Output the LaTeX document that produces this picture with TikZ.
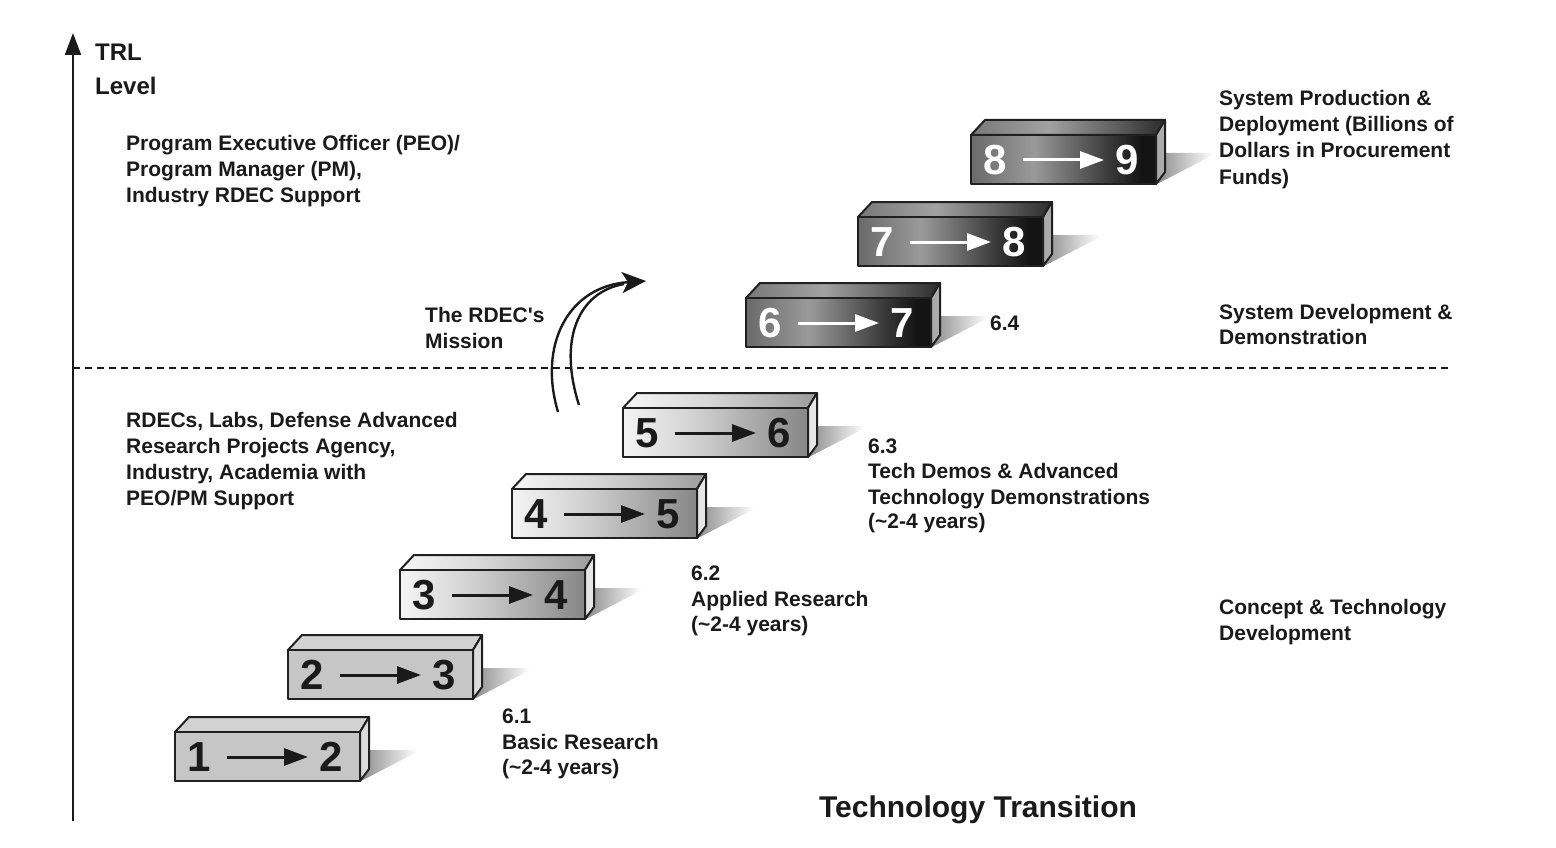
\documentclass[tikz,border=0pt]{standalone}
\usepackage{fontspec}
\setmainfont{Liberation Sans}
\usetikzlibrary{arrows.meta}
\definecolor{ink}{HTML}{1A1A1A}
\definecolor{boxedge}{HTML}{202020}
\definecolor{flatF}{HTML}{C6C6C6}
\definecolor{flatT}{HTML}{D2D2D2}
\definecolor{flatS}{HTML}{DCDCDC}
\definecolor{lf1}{HTML}{F4F4F4}
\definecolor{lf2}{HTML}{D0D0D0}
\definecolor{lf3}{HTML}{868686}
\definecolor{lt1}{HTML}{F6F6F6}
\definecolor{lt2}{HTML}{DADADA}
\definecolor{lt3}{HTML}{9C9C9C}
\definecolor{lightS}{HTML}{E6E6E6}
\definecolor{df1}{HTML}{6A6A6A}
\definecolor{df2}{HTML}{9A9A9A}
\definecolor{df3}{HTML}{363636}
\definecolor{df4}{HTML}{141414}
\definecolor{dt1}{HTML}{787878}
\definecolor{dt2}{HTML}{A2A2A2}
\definecolor{dt3}{HTML}{2C2C2C}
\definecolor{darkS}{HTML}{ABABAB}
\definecolor{sh1}{HTML}{8C8C8C}
\pgfdeclarehorizontalshading{lightfront}{100bp}{color(0bp)=(lf1); color(25bp)=(lf1); color(45bp)=(lf2); color(75bp)=(lf3); color(100bp)=(lf3)}
\pgfdeclarehorizontalshading{lighttop}{100bp}{color(0bp)=(lt1); color(25bp)=(lt1); color(45bp)=(lt2); color(75bp)=(lt3); color(100bp)=(lt3)}
\pgfdeclarehorizontalshading{darkfront}{100bp}{color(0bp)=(df1); color(25bp)=(df1); color(42bp)=(df2); color(63bp)=(df3); color(71bp)=(df4); color(75bp)=(df4); color(100bp)=(df4)}
\pgfdeclarehorizontalshading{darktop}{100bp}{color(0bp)=(dt1); color(25bp)=(dt1); color(45bp)=(dt2); color(75bp)=(dt3); color(100bp)=(dt3)}
\pgfdeclarehorizontalshading{shadowfade}{100bp}{color(0bp)=(sh1); color(25bp)=(sh1); color(75bp)=(white); color(100bp)=(white)}
\tikzset{
  boxline/.style={draw=boxedge, line width=2pt, line join=round},
  flatfront/.style={fill=flatF},
  flattop/.style={fill=flatT},
  flatside/.style={fill=flatS},
  lightfront/.style={shading=lightfront},
  lighttop/.style={shading=lighttop},
  lightside/.style={fill=lightS},
  darkfront/.style={shading=darkfront},
  darktop/.style={shading=darktop},
  darkside/.style={fill=darkS},
  digit/.style={inner sep=0pt, font=\fontsize{42}{42}\selectfont\bfseries},
  lbl/.style={anchor=base west, inner sep=0pt, text=ink, font=\fontsize{21}{26}\selectfont\bfseries},
  boxarrow/.style={line width=3pt, -{Triangle[length=24pt,width=17pt]}},
}
\newcommand\trlbox[7]{%
  \begin{scope}[shift={(#2,#3)}]
    \shade[shading=shadowfade] (189,18) -- (242,18) -- (242,20) -- (186,49) -- cycle;
    \path[boxline, #6top] (0,0) -- (14,-15) -- (194,-15) -- (185,0) -- cycle;
    \path[boxline, #6side] (185,0) -- (194,-15) -- (194,37) -- (185,49) -- cycle;
    \path[boxline, #6front] (0,0) rectangle (185,49);
    \node[digit, text=#7] (#1a) at (24,25) {#4};
    \node[digit, text=#7] (#1b) at (156,25) {#5};
    \coordinate (#1s) at (52,25);
    \coordinate (#1e) at (133,25);
    \draw[boxarrow, draw=#7, fill=#7] (#1s) -- (#1e);
  \end{scope}}
\begin{document}
\begin{tikzpicture}[x=1pt, y=-1pt]
\useasboundingbox (0,0) rectangle (1556,848);
\fill[white] (0,0) rectangle (1556,848);

% axis and divider
\coordinate (axisbot) at (73,821);
\coordinate (axistop) at (73,33);
\draw[ink, line width=2pt, -{Triangle[length=22pt,width=16pt]}] (axisbot) -- (axistop);
\coordinate (dl) at (73,368);
\coordinate (dr) at (1452,368);
\draw[ink, line width=2pt, dash pattern=on 7pt off 5pt] (dl) -- (dr);

% boxes
\trlbox{b12}{175}{732}{1}{2}{flat}{ink}
\trlbox{b23}{288}{650}{2}{3}{flat}{ink}
\trlbox{b34}{400}{570}{3}{4}{light}{ink}
\trlbox{b45}{512}{489}{4}{5}{light}{ink}
\trlbox{b56}{623}{408}{5}{6}{light}{ink}
\trlbox{b67}{746}{298}{6}{7}{dark}{white}
\trlbox{b78}{858}{217}{7}{8}{dark}{white}
\trlbox{b89}{971}{135}{8}{9}{dark}{white}

% mission arrows
\coordinate (m1s) at (558,412);
\coordinate (m1e) at (646,281);
\coordinate (m2s) at (579,405);
\coordinate (m2e) at (624,284);
\draw[ink, line width=2.4pt] (m2s) .. controls (558,340) and (578,292) .. (m2e);
\draw[ink, line width=2.4pt, -{Stealth[length=24pt,width=21pt,inset=6pt]}] (m1s) .. controls (538,345) and (568,286) .. (m1e);

% labels
\node[anchor=base west, inner sep=0pt, text=ink, font=\fontsize{24}{28}\selectfont\bfseries] (trl1) at (95,61) {TRL};
\node[anchor=base west, inner sep=0pt, text=ink, font=\fontsize{24}{28}\selectfont\bfseries] (trl2) at (95,95) {Level};

\node[lbl] (peo1) at (126,151) {Program Executive Officer (PEO)/};
\node[lbl] (peo2) at (126,177) {Program Manager (PM),};
\node[lbl] (peo3) at (126,202) {Industry RDEC Support};

\node[lbl] (mis1) at (425,322) {The RDEC\textquotesingle s};
\node[lbl] (mis2) at (425,348) {Mission};

\node[lbl] (rd1) at (126,427) {RDECs, Labs, Defense Advanced};
\node[lbl] (rd2) at (126,453) {Research Projects Agency,};
\node[lbl] (rd3) at (126,479) {Industry, Academia with};
\node[lbl] (rd4) at (126,505) {PEO/PM Support};

\node[lbl] (s61a) at (502,723) {6.1};
\node[lbl] (s61b) at (502,749) {Basic Research};
\node[lbl] (s61c) at (502,774) {(\textasciitilde 2-4 years)};

\node[lbl] (s62a) at (691,580) {6.2};
\node[lbl] (s62b) at (691,606) {Applied Research};
\node[lbl] (s62c) at (691,631) {(\textasciitilde 2-4 years)};

\node[lbl] (s63a) at (868,453) {6.3};
\node[lbl] (s63b) at (868,478) {Tech Demos \& Advanced};
\node[lbl] (s63c) at (868,504) {Technology Demonstrations};
\node[lbl] (s63d) at (868,528) {(\textasciitilde 2-4 years)};

\node[lbl] (s64) at (990,330) {6.4};

\node[lbl] (sp1) at (1219,106) {System Production \&};
\node[lbl] (sp2) at (1219,132) {Deployment (Billions of};
\node[lbl] (sp3) at (1219,158) {Dollars in Procurement};
\node[lbl] (sp4) at (1219,184) {Funds)};

\node[lbl] (sd1) at (1219,319) {System Development \&};
\node[lbl] (sd2) at (1219,344) {Demonstration};

\node[lbl] (ct1) at (1219,614) {Concept \& Technology};
\node[lbl] (ct2) at (1219,640) {Development};

\node[anchor=base, inner sep=0pt, text=ink, font=\fontsize{30}{34}\selectfont\bfseries] (tt) at (978,817) {Technology Transition};
\end{tikzpicture}
\end{document}
